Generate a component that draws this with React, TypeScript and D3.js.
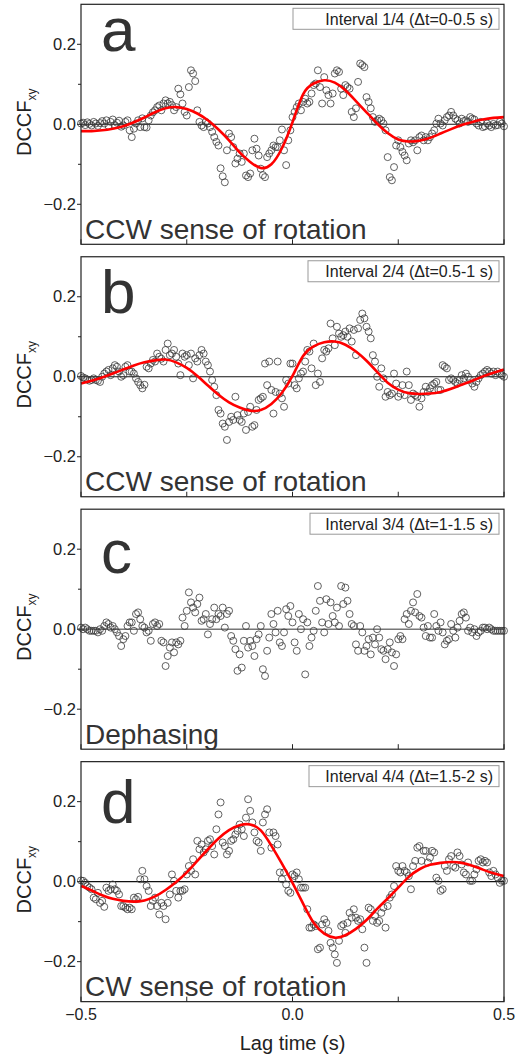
import React from "react";
import * as d3 from "d3";

// ---------------- DATA (DCCF_xy vs lag time, lag grid -0.5..0.5 s) ----------------
const panelAValues = [
  .002, .004, -.002, .005, .001, -.003, .006, .002, -.004, .003,
  .008, .002, .010, -.004, .006, .012, -.002, .004, .009, -.006,
  -.003, .006, .010, -.015, -.032, -.011, .002, .010, -.007, .015,
  -.007, -.008, .010, .022, .030, .035, .043, .047, .035, .052,
  .060, .052, .056, .048, .035, .043, .089, .075, .052, .031,
  .022, .093, .135, .127, .108, .035, .006, -.003, -.007, .006,
  .002, -.007, -.019, -.032, -.044, -.053, -.110, -.130, -.145, -.065,
  -.023, -.032, -.057, -.098, -.086, -.073, -.094, -.073, -.128, -.132,
  -.123, -.065, -.036, -.061, -.078, -.111, -.127, -.132, -.082, -.073,
  -.065, -.053, -.057, -.057, -.040, -.013, -.065, -.102, -.040, -.015,
  .018, .031, .043, .052, .035, .056, .064, .052, .056, .077,
  .098, .102, .135, .093, .052, .118, .085, .073, .052, .077,
  .127, .135, .131, .089, .073, .098, .093, .089, .031, .018,
  .040, .106, .152, .148, .143, .068, .056, .040, .018, .006,
  .010, .014, .010, .002, -.015, -.082, -.132, -.140, -.107, -.053,
  -.040, -.057, -.069, -.078, -.090, -.048, -.040, -.045, -.040, -.065,
  -.032, -.028, -.040, -.032, -.040, -.032, -.023, -.015, .002, .014,
  .002, -.003, .010, .018, .022, .031, .022, .014, .010, .002,
  .014, .008, .010, .006, .018, .014, .012, .002, -.003, .006,
  -.007, -.005, .002, -.003, -.007, .001, -.003, -.002, .006, .002,
  -.005,
];

const panelBValues = [
  .002, -.002, -.004, -.007, -.010, -.008, -.004, -.008, -.010, -.013,
  .000, .008, .013, .017, .004, .021, .029, .025, .013, .000,
  .004, .025, .029, .013, .013, .008, -.004, -.013, -.021, -.029,
  -.020, .025, .021, .033, .042, .038, .058, .050, .045, .038,
  .067, .083, .054, .058, .067, .050, .033, .004, .058, .050,
  .054, .029, .058, -.004, .046, .038, .054, .067, .058, .038,
  .029, .013, -.008, -.025, -.046, -.083, -.092, -.117, -.125, -.158,
  -.113, -.100, -.108, -.050, -.096, -.108, -.113, -.092, -.133, -.088,
  -.075, -.125, -.121, -.083, -.058, -.054, -.050, .033, -.021, .038,
  -.033, -.092, -.038, .038, -.042, -.054, -.075, -.008, -.017, .033,
  .033, -.021, -.029, -.004, .008, .013, .038, .067, .063, .021,
  .083, -.021, .008, -.013, .046, .067, .063, .071, .133, .096,
  .079, .125, .108, .100, .104, .113, .100, .121, .088, .117,
  .054, .121, .142, .158, .146, .125, .113, .096, .054, .038,
  .000, -.025, .021, -.004, -.050, -.038, -.046, -.042, .008, -.017,
  -.050, -.042, -.021, -.046, .013, -.021, -.058, -.042, -.046, -.050,
  -.075, -.054, -.038, -.025, -.038, -.029, -.021, -.017, -.013, -.033,
  -.033, .029, .025, .021, -.008, -.004, -.008, -.013, -.017, -.008,
  .004, -.004, .008, .000, -.008, -.017, -.025, -.013, -.004, .004,
  .008, .013, .017, .013, .008, .013, .004, .013, .008, .004,
  .000,
];

const panelCValues = [
  .004, .000, .004, .000, -.004, -.004, -.004, -.004, -.008, .000,
  -.004, .008, .017, .013, .004, .008, .000, -.008, -.017, -.042,
  -.025, -.017, .008, .017, .017, -.004, .038, .042, .025, .008,
  .004, -.008, -.004, -.029, .013, .017, .008, .013, -.029, -.033,
  -.092, -.067, -.046, -.033, -.058, -.033, -.038, -.029, .029, .008,
  .046, .092, .067, .054, .042, .063, .079, .021, .025, .038,
  -.013, .013, .025, .054, .025, .038, .033, .054, .004, .038,
  .046, -.017, -.029, -.050, -.104, -.063, -.096, -.029, .008, -.046,
  -.029, -.042, -.067, -.025, -.013, .008, -.100, -.117, -.054, -.021,
  .038, .013, -.008, .046, -.033, -.042, -.008, .050, .033, .058,
  .017, -.033, -.054, .038, .000, .025, -.113, .017, -.042, -.021,
  -.004, .046, .108, .071, .017, -.008, .075, .013, .067, .033,
  .017, .054, .008, .108, .063, .104, .071, .038, .013, .008,
  -.038, -.054, .008, -.008, -.054, -.042, -.025, -.063, -.021, -.038,
  .000, -.021, -.050, -.054, -.075, -.050, -.033, -.058, -.092, -.063,
  -.025, -.017, -.025, .025, .038, .013, .046, .067, .042, .088,
  .033, .029, .004, -.017, .008, -.021, -.021, .038, .008, -.004,
  .017, -.008, -.038, -.029, -.025, .013, -.004, -.021, .004, .021,
  .038, .042, .029, -.004, .004, -.008, .000, -.017, -.008, -.004,
  .004, .004, .000, .004, .000, -.004, -.004, -.004, -.004, -.004,
  -.004,
];

const panelDValues = [
  .003, .002, -.003, -.011, -.015, -.019, -.040, -.044, -.028, -.053,
  -.048, -.063, -.015, -.023, -.019, -.007, -.019, -.023, -.032, -.061,
  -.061, -.065, -.069, -.065, -.069, -.040, -.044, -.038, .006, .027,
  .006, -.011, -.023, -.061, -.048, -.040, -.061, -.082, -.053, -.061,
  -.094, -.053, -.032, .018, .002, -.023, -.040, -.023, -.023, -.019,
  .018, .039, .027, .056, .018, .102, .081, .093, .073, .081,
  .102, .106, .089, .068, .131, .168, .198, .098, .089, .068,
  .077, .102, .106, .118, .127, .143, .131, .114, .160, .206,
  .177, .148, .123, .102, .098, .077, .148, .168, .181, .123,
  .085, .123, .114, .093, .023, .006, .023, -.007, -.023, -.028,
  .018, .014, .023, .006, -.015, -.015, -.015, -.069, -.115, -.115,
  -.107, -.111, -.169, -.165, -.107, -.094, -.103, -.123, -.153, -.165,
  -.182, -.203, -.148, -.111, -.107, -.128, -.103, -.078, -.090, -.069,
  -.090, -.098, -.094, -.119, -.165, -.203, -.065, -.069, -.098, -.086,
  -.103, -.098, -.078, -.065, -.115, -.061, -.040, -.032, -.011, .039,
  .027, .023, .039, .027, .023, .014, -.019, .039, .052, .085,
  .089, .052, .077, .077, .048, .060, .077, .073, .010, .002,
  -.023, -.019, .039, .027, .056, .064, .039, .035, .073, .064,
  .043, .023, .018, .048, .002, .002, .018, .031, .052, .056,
  .048, .052, .048, .023, .014, .027, .018, .010, -.003, .002,
  .002,
];

// fitted curves, sampled every 0.025 s from -0.5 to 0.5
const fitAValues = [
  -.017, -.017, -.015, -.011, -.005, .005, .017, .030, .040, .043,
  .038, .027, .010, -.013, -.040, -.070, -.094, -.109, -.100, -.060,
  .005, .075, .102, .110, .104, .085, .058, .030, .002, -.022,
  -.038, -.043, -.041, -.034, -.023, -.012, -.002, .006, .012, .016,
  .018,
];
const fitBValues = [
  -.017, -.010, -.002, .008, .018, .028, .036, .041, .043, .036,
  .022, .002, -.022, -.045, -.064, -.077, -.085, -.083, -.068, -.040,
  .002, .052, .076, .086, .088, .080, .063, .040, .012, -.015,
  -.032, -.041, -.043, -.042, -.038, -.030, -.020, -.010, .001, .010,
  .018,
];
const fitDValues = [
  -.011, -.022, -.034, -.043, -.048, -.050, -.047, -.037, -.021, -.001,
  .023, .052, .081, .108, .129, .141, .143, .128, .090, .045,
  -.003, -.055, -.103, -.130, -.140, -.134, -.118, -.096, -.068, -.042,
  -.015, .012, .031, .042, .047, .049, .047, .040, .030, .021,
  .014,
];

const panelLetters = ["a", "b", "c", "d"];
const intervalLabels = [
  "Interval 1/4 (\u0394t=0-0.5 s)",
  "Interval 2/4 (\u0394t=0.5-1 s)",
  "Interval 3/4 (\u0394t=1-1.5 s)",
  "Interval 4/4 (\u0394t=1.5-2 s)",
];
const panelNotes = ["CCW sense of rotation", "CCW sense of rotation", "Dephasing", "CW sense of rotation"];
const yTickMajor = [-0.2, 0, 0.2];
const yTickMinor = [-0.1, 0.1];
const xTicks = [-0.5, -0.25, 0, 0.25, 0.5];
const xTickLabels = [-0.5, 0, 0.5];

// ---------------- LAYOUT ----------------
const W = 517;
const H = 1059;
const X0 = 81;
const X1 = 504;
const PH = 240;
const panelTops = [4.3, 256.75, 509.2, 761.65];
const letterBase = [47, 56, 64, 61];
const legendLeft = [293, 308, 310, 309];
const FONT = "'Liberation Sans', Arial, Helvetica, sans-serif";

const xScale = d3.scaleLinear().domain([-0.5, 0.5]).range([X0, X1]);

function lagGrid(n: number) {
  return d3.range(n).map((i) => -0.5 + i / (n - 1));
}

type PanelProps = {
  idx: number;
  values: number[];
  fit: number[] | null;
  last: boolean;
};

function Panel({ idx, values, fit, last }: PanelProps) {
  const top = panelTops[idx];
  const y = d3.scaleLinear().domain([-0.3, 0.3]).range([top + PH, top]);
  const lags = lagGrid(values.length);
  const pts = values.map((v, i) => [lags[i], v] as [number, number]);
  let fitPath: string | null = null;
  if (fit) {
    const fl = lagGrid(fit.length);
    const line = d3
      .line<[number, number]>()
      .x((d) => xScale(d[0]))
      .y((d) => y(d[1]))
      .curve(d3.curveNatural);
    fitPath = line(fit.map((v, i) => [fl[i], v] as [number, number]));
  }
  const isDephase = idx === 2;
  return (
    <g>
      {/* zero line */}
      <line
        x1={X0}
        x2={X1}
        y1={y(0)}
        y2={y(0)}
        stroke={isDephase ? "#777" : "#111"}
        strokeWidth={isDephase ? 1.6 : 1.1}
      />
      {/* data points */}
      {pts.map((p, i) => (
        <circle key={i} cx={xScale(p[0])} cy={y(p[1])} r={3.5} fill="none" stroke="#3a3a3a" strokeWidth={0.8} />
      ))}
      {fitPath && <path d={fitPath} fill="none" stroke="#ff0000" strokeWidth={2.6} />}
      {/* frame */}
      <rect x={X0} y={top} width={X1 - X0} height={PH} fill="none" stroke="#222" strokeWidth={1.2} />
      {/* y ticks */}
      {yTickMajor.map((t) => (
        <g key={"M" + t}>
          <line x1={X0 - 4} x2={X0} y1={y(t)} y2={y(t)} stroke="#222" strokeWidth={1} />
          <text
            x={X0 - 5}
            y={y(t) + 5.5}
            textAnchor="end"
            fontSize={16.5}
            fill="#222"
            fontFamily={FONT}
          >
            {d3.format(".1f")(t)}
          </text>
        </g>
      ))}
      {yTickMinor.map((t) => (
        <line key={"m" + t} x1={X0 - 3} x2={X0} y1={y(t)} y2={y(t)} stroke="#222" strokeWidth={1} />
      ))}
      {/* x ticks (inward) */}
      {xTicks.map((t) => (
        <line key={"x" + t} x1={xScale(t)} x2={xScale(t)} y1={top + PH} y2={top + PH - 5} stroke="#222" strokeWidth={1} />
      ))}
      {last &&
        xTickLabels.map((t) => (
          <text key={"xl" + t} x={xScale(t)} y={top + PH + 18.5} textAnchor="middle" fontSize={16} fill="#222" fontFamily={FONT}>
            {d3.format(".1f")(t)}
          </text>
        ))}
      {/* panel letter */}
      <text x={101} y={top + letterBase[idx]} fontSize={62} fill="#333" fontFamily={FONT}>
        {panelLetters[idx]}
      </text>
      {/* legend box */}
      <rect
        x={legendLeft[idx]}
        y={top + 4}
        width={499 - legendLeft[idx]}
        height={21}
        fill="#fff"
        stroke="#999"
        strokeWidth={1}
      />
      <text x={493} y={top + 20.5} textAnchor="end" fontSize={16} fill="#222" fontFamily={FONT}>
        {intervalLabels[idx]}
      </text>
      {/* bottom note */}
      <text x={85} y={top + PH - 5.5} fontSize={28} fill="#333" fontFamily={FONT}>
        {panelNotes[idx]}
      </text>
      {/* y title */}
      <text
        transform={`translate(30.5, ${top + 118}) rotate(-90)`}
        textAnchor="middle"
        fontSize={20}
        fill="#222"
        fontFamily={FONT}
      >
        DCCF
        <tspan dy={5} fontSize={12}>
          xy
        </tspan>
      </text>
    </g>
  );
}

export default function App() {
  const valueSets = [panelAValues, panelBValues, panelCValues, panelDValues];
  const fits = [fitAValues, fitBValues, null, fitDValues];
  return (
    <svg
      width={W}
      height={H}
      viewBox={`0 0 ${W} ${H}`}
      style={{ position: "absolute", left: 0, top: 0, background: "#fff" }}
    >
      <rect x={0} y={0} width={W} height={H} fill="#fff" />
      {valueSets.map((vals, i) => (
        <Panel key={i} idx={i} values={vals} fit={fits[i]} last={i === 3} />
      ))}
      <text x={292.5} y={1050} textAnchor="middle" fontSize={20} fill="#222" fontFamily={FONT}>
        Lag time (s)
      </text>
    </svg>
  );
}
